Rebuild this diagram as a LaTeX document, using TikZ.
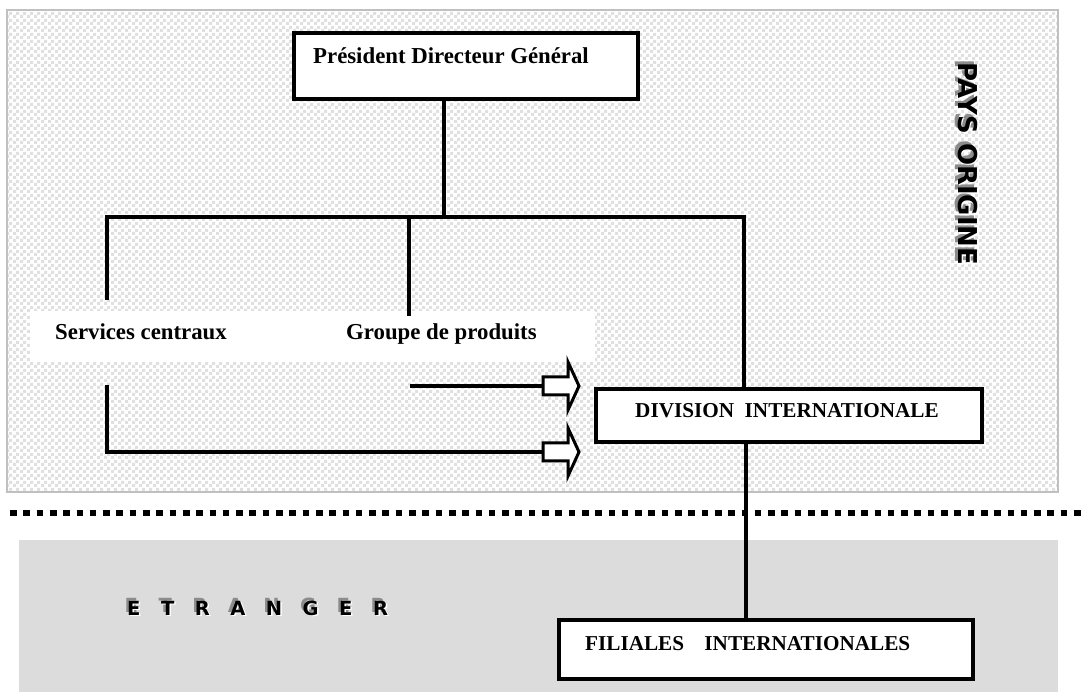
\documentclass[tikz,border=0pt]{standalone}
\usepackage{fontspec}
\setmainfont{Liberation Serif}
\newfontfamily\embossfont{DejaVu Sans}
\usetikzlibrary{patterns,calc}

% fine checkered fill for the home-country zone
\pgfdeclarepatternformonly{smallchecks}{\pgfpointorigin}{\pgfqpoint{6.6pt}{6.6pt}}{\pgfqpoint{6.6pt}{6.6pt}}{%
  \pgfpathrectangle{\pgfpointorigin}{\pgfqpoint{3.3pt}{3.3pt}}%
  \pgfpathrectangle{\pgfqpoint{3.3pt}{3.3pt}}{\pgfqpoint{3.3pt}{3.3pt}}%
  \pgfusepath{fill}}

\definecolor{checkgray}{HTML}{E0E0E0}
\definecolor{framegray}{HTML}{C0C0C0}
\definecolor{bandgray}{HTML}{DCDCDC}
\definecolor{shadowgray}{HTML}{8C8C8C}

\newcommand\etrword{E\hspace{20.5pt}T\hspace{20.5pt}R\hspace{20.5pt}A\hspace{20.5pt}N\hspace{20.5pt}G\hspace{20.5pt}E\hspace{20.5pt}R}

% embossed lettering: grey shadow copy, white highlight copy, then the black text
% #1,#2 shadow offset; #3,#4 highlight offset; #5 text
\newcommand\embossed[5]{%
  \makebox[0pt][l]{\hspace{#1}\raisebox{#2}{\color{shadowgray}#5}}%
  \makebox[0pt][l]{\hspace{#3}\raisebox{#4}{\color{white}#5}}%
  #5}

\tikzset{
  orgbox/.style={draw, line width=4pt, fill=white, inner sep=0pt},
  link/.style={line width=3.6pt},
  lbl/.style={inner sep=0pt, anchor=base west, font=\bfseries\fontsize{22.8}{26}\selectfont},
  boxlbl/.style={inner sep=0pt, anchor=base west, font=\bfseries\fontsize{21.2}{24}\selectfont},
  emboss/.style={inner sep=0pt, anchor=base west, font=\embossfont\bfseries\fontsize{#1}{#1}\selectfont},
  hollowtip/.pic={
    \draw[line width=3pt, fill=white, miter limit=10]
      (0,-9) -- (25,-9) -- (25,-24) -- (36,0) -- (25,24) -- (25,9) -- (0,9) -- cycle;
  }
}

\begin{document}
\begin{tikzpicture}[x=1pt,y=-1pt]
\useasboundingbox (0,0) rectangle (1082,692);

% home-country zone
\fill[white] (7,10) rectangle (1058,492);
\fill[pattern=smallchecks, pattern color=checkgray] (7,10) rectangle (1058,492);
\draw[framegray, line width=2pt] (7,10) rectangle (1058,492);

% foreign zone
\fill[bandgray] (19,540) rectangle (1058,692);

% frontier
\coordinate (borderL) at (10,513);
\coordinate (borderR) at (1082,513);
\draw[line width=6pt, dash pattern=on 6.6pt off 6.7pt] (borderL) -- (borderR);

% white band behind the two department labels
\fill[white] (30,311) rectangle (595,362);

% junction points of the hierarchy lines
\coordinate (hub)    at (444,217);
\coordinate (barL)   at (107,217);
\coordinate (barM)   at (409,217);
\coordinate (barR)   at (744,217);
\coordinate (svcEnd) at (107,300);
\coordinate (grpEnd) at (409,316);
\coordinate (svcLow) at (107,385);
\coordinate (svcCorner) at (107,452);
\coordinate (grpLow) at (410,386);
\coordinate (arrAtail) at (543,386);
\coordinate (arrBtail) at (543,452);
\coordinate (drop)   at (746,442);

% boxes
\node[orgbox, minimum width=344pt, minimum height=65.5pt] (pdg) at (466,66) {};
\node[orgbox, minimum width=386pt, minimum height=53pt] (div) at (789,415.5) {};
\node[orgbox, minimum width=414pt, minimum height=59pt] (fil) at (766,649.5) {};

% hierarchy lines
\draw[link] (hub |- pdg.south) -- (hub);
\draw[link, line join=miter] (svcEnd) -- (barL) -- (barR) -- (barR |- div.north);
\draw[link] (barM) -- (grpEnd);
\draw[link, line join=miter] (svcLow) -- (svcCorner) -- (arrBtail);
\draw[link] (grpLow) -- (arrAtail);
\draw[link] (drop) -- (drop |- fil.north);

% hollow block arrows pointing at the international division
\pic (arrA) at (arrAtail) {hollowtip};
\pic (arrB) at (arrBtail) {hollowtip};

% box labels
\node[lbl] (pdgtext) at (313,64) {Président Directeur Général};
\node[lbl] (svctext) at (55,340) {Services centraux};
\node[lbl] (grptext) at (346,340) {Groupe de produits};
\node[boxlbl] (divtext) at (635,418) {DIVISION\ \ INTERNATIONALE};
\node[boxlbl] (filtext) at (585,650) {FILIALES\hspace{15pt} INTERNATIONALES};

% embossed zone titles
\node[emboss=19.5] (etrText) at (127,615)
  {\embossed{-2.5pt}{2.5pt}{1.5pt}{-1.5pt}{\etrword}};
\node[emboss=26, rotate=-90] (paysText) at (958,62)
  {\embossed{-2.5pt}{-2.5pt}{1.5pt}{1.5pt}{PAYS ORIGINE}};
\end{tikzpicture}
\end{document}
